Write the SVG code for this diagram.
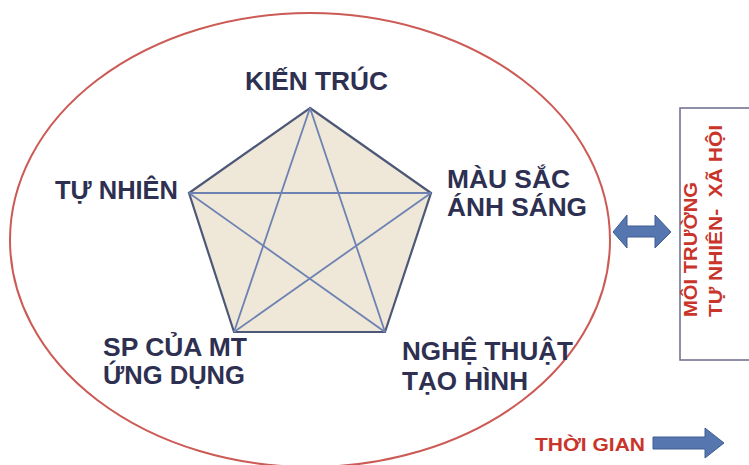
<svg xmlns="http://www.w3.org/2000/svg" width="749" height="465" viewBox="0 0 749 465">
<style>
.lbl{font-family:"Liberation Sans",Arial,sans-serif;font-weight:bold;font-size:26px;fill:#2e3052}
.red{font-family:"Liberation Sans",Arial,sans-serif;font-weight:bold;font-size:18px;fill:#c9342b}
.star{stroke:#6d82b3;stroke-width:1.8;fill:none}
.arrow{fill:#5676b0;stroke:#3f5d92;stroke-width:1}
</style>
<rect width="749" height="465" fill="#ffffff"/>
<g id="boundary">
<ellipse cx="310" cy="240" rx="300" ry="227" fill="none" stroke="#cc5a55" stroke-width="2"/>
</g>
<g id="pentagon">
<polygon points="310,108 431,193 385,332 234,332 189,193" fill="#efe7d7" stroke="#4d5878" stroke-width="2.2" stroke-linejoin="miter"/>
</g>
<g id="connectors">
<line class="star" x1="189" y1="193" x2="431" y2="193"/>
<line class="star" x1="310" y1="108" x2="234" y2="332"/>
<line class="star" x1="310" y1="108" x2="385" y2="332"/>
<line class="star" x1="189" y1="193" x2="385" y2="332"/>
<line class="star" x1="431" y1="193" x2="234" y2="332"/>
</g>
<g id="kien-truc"><text class="lbl" x="245" y="90" textLength="143" lengthAdjust="spacingAndGlyphs">KIẾN TRÚC</text></g>
<g id="tu-nhien"><text class="lbl" x="55" y="199" textLength="123" lengthAdjust="spacingAndGlyphs">TỰ NHIÊN</text></g>
<g id="mau-sac">
<text class="lbl" x="447" y="188" textLength="123" lengthAdjust="spacingAndGlyphs">MÀU SẮC</text>
<text class="lbl" x="447" y="216" textLength="140" lengthAdjust="spacingAndGlyphs">ÁNH SÁNG</text>
</g>
<g id="sp-cua-mt">
<text class="lbl" x="103" y="356" textLength="144" lengthAdjust="spacingAndGlyphs">SP CỦA MT</text>
<text class="lbl" x="103" y="384" textLength="142" lengthAdjust="spacingAndGlyphs">ỨNG DỤNG</text>
</g>
<g id="nghe-thuat">
<text class="lbl" x="402" y="360" font-size="25" textLength="171" lengthAdjust="spacingAndGlyphs">NGHỆ THUẬT</text>
<text class="lbl" x="402" y="390" font-size="25" textLength="126" lengthAdjust="spacingAndGlyphs">TẠO HÌNH</text>
</g>
<g id="double-arrow">
<polygon class="arrow" points="613,232 627,215 627,226 655,226 655,215 671,232 655,248 655,237 627,237 627,248"/>
</g>
<g id="moi-truong">
<rect x="680" y="108" width="80" height="252" fill="#ffffff" stroke="#6b6b8c" stroke-width="1.5"/>
<text class="red" transform="translate(697,317) rotate(-90)" textLength="135" lengthAdjust="spacingAndGlyphs">MÔI TRƯỜNG</text>
<text class="red" transform="translate(722,317) rotate(-90)" textLength="192" lengthAdjust="spacingAndGlyphs" xml:space="preserve">TỰ NHIÊN-  XÃ HỘI</text>
</g>
<g id="thoi-gian">
<text class="red" x="535" y="451" font-size="19" textLength="110" lengthAdjust="spacingAndGlyphs">THỜI GIAN</text>
<polygon class="arrow" points="653,437 705,437 705,428 724,443 705,458 705,449 653,449"/>
</g>
</svg>
